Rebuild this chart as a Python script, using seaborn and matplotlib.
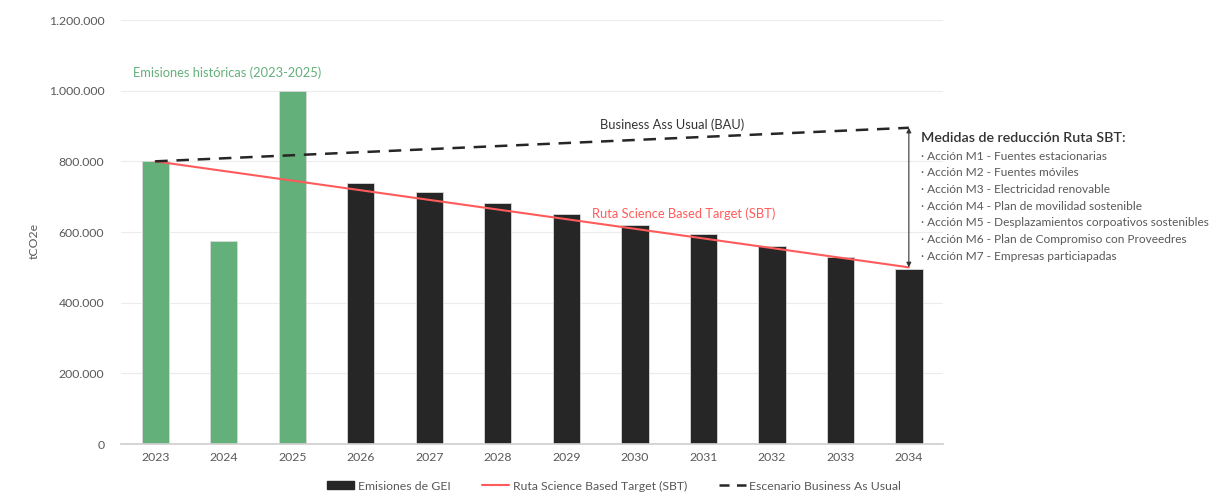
import matplotlib
matplotlib.use("Agg")
import matplotlib.pyplot as plt
import matplotlib.ticker as mticker
from matplotlib.patches import Patch
from matplotlib.lines import Line2D
import seaborn as sns
import pandas as pd

years = ["2023", "2024", "2025", "2026", "2027", "2028", "2029", "2030", "2031", "2032", "2033", "2034"]
emissions = [800000, 575000, 1000000, 738000, 713000, 682000, 651000, 620000, 594000, 560000, 529000, 495000]
kind = ["hist", "hist", "hist", "proj", "proj", "proj", "proj", "proj", "proj", "proj", "proj", "proj"]
sbt_years = ["2023", "2034"]
sbt_values = [800000, 500000]
bau_years = ["2023", "2034"]
bau_values = [800000, 895000]
y_ticks = [0, 200000, 400000, 600000, 800000, 1000000, 1200000]
measures = [
    "· Acción M1 - Fuentes estacionarias",
    "· Acción M2 - Fuentes móviles",
    "· Acción M3 - Electricidad renovable",
    "· Acción M4 - Plan de movilidad sostenible",
    "· Acción M5 - Desplazamientos corpoativos sostenibles",
    "· Acción M6 - Plan de Compromiso con Proveedres",
    "· Acción M7 - Empresas particiapadas",
]

sns.set_theme(style="white")
plt.rcParams["font.family"] = ["Lato", "DejaVu Sans"]

GREEN = "#63b07a"
BLACK = "#262626"
RED = "#ff5b5b"
GRAY = "#595959"

df = pd.DataFrame({"year": years, "value": emissions, "kind": kind})

fig = plt.figure(figsize=(12.28, 4.94), dpi=100)
ax = fig.add_axes([0.0985, 0.1012, 0.6695, 0.8583])

sns.barplot(data=df, x="year", y="value", hue="kind", order=years,
            palette={"hist": GREEN, "proj": BLACK}, dodge=False, width=0.4,
            saturation=1, edgecolor="#d9d9d9", linewidth=0.6, legend=False, ax=ax)

pos = {y: i for i, y in enumerate(years)}
ax.plot([pos[y] for y in sbt_years], sbt_values, color=RED, lw=1.5, zorder=4)
ax.plot([pos[y] for y in bau_years], bau_values, color=BLACK, lw=1.8,
        dashes=(5, 3.5), zorder=4)

ax.set_xlim(-0.5, len(years) - 0.5)
ax.set_ylim(0, 1200000)
ax.set_yticks(y_ticks)
ax.yaxis.set_major_formatter(mticker.FuncFormatter(lambda v, p: f"{int(v):,}".replace(",", ".")))
ax.grid(axis="y", color="#ececec", lw=0.8)
ax.set_axisbelow(True)
for s in ["top", "right", "left"]:
    ax.spines[s].set_visible(False)
ax.spines["bottom"].set_color("#d0d0d0")
ax.tick_params(axis="y", length=0, labelsize=8.8, labelcolor=GRAY, pad=12)
ax.tick_params(axis="x", length=0, labelsize=8.8, labelcolor=GRAY, pad=6)
ax.set_xlabel("")
ax.set_ylabel("tCO2e", fontsize=8.8, color=GRAY)
ax.yaxis.set_label_coords(-0.0985, 0.48)

# Arrow between BAU and SBT
x_end = pos["2034"]
ax.annotate("", xy=(x_end, sbt_values[-1]), xytext=(x_end, bau_values[-1]),
            arrowprops=dict(arrowstyle="<|-|>", color="#333333", lw=0.8,
                            mutation_scale=7, shrinkA=0, shrinkB=0), zorder=5)

ax.text(1.05, 1052000, "Emisiones históricas (2023-2025)", color=GREEN,
        fontsize=9.3, ha="center", va="center")
ax.text(7.55, 905000, "Business Ass Usual (BAU)", color="#333333",
        fontsize=9.3, ha="center", va="center")
ax.text(7.72, 651000, "Ruta Science Based Target (SBT)", color=RED,
        fontsize=9.3, ha="center", va="center")

fig.text(921 / 1228, 1 - 138 / 494, "Medidas de reducción Ruta SBT:", fontsize=10.3,
         color="#333333", ha="left", va="center", fontweight="semibold")
for i, m in enumerate(measures):
    fig.text(921 / 1228, 1 - (156 + i * 16.7) / 494, m, fontsize=8.6,
             color=GRAY, ha="left", va="center")

handles = [
    Patch(facecolor=BLACK, edgecolor=BLACK),
    Line2D([0], [0], color=RED, lw=1.5),
    Line2D([0], [0], color=BLACK, lw=1.8, dashes=(4, 3)),
]
labels = ["Emisiones de GEI", "Ruta Science Based Target (SBT)", "Escenario Business As Usual"]
fig.legend(handles, labels, loc="center", bbox_to_anchor=(614 / 1228, 1 - 486 / 494),
           ncol=3, frameon=False, fontsize=8.8, labelcolor=GRAY,
           handlelength=2.2, handleheight=0.6, handletextpad=0.3, columnspacing=2.6)

fig.savefig("out.png", dpi=100)
